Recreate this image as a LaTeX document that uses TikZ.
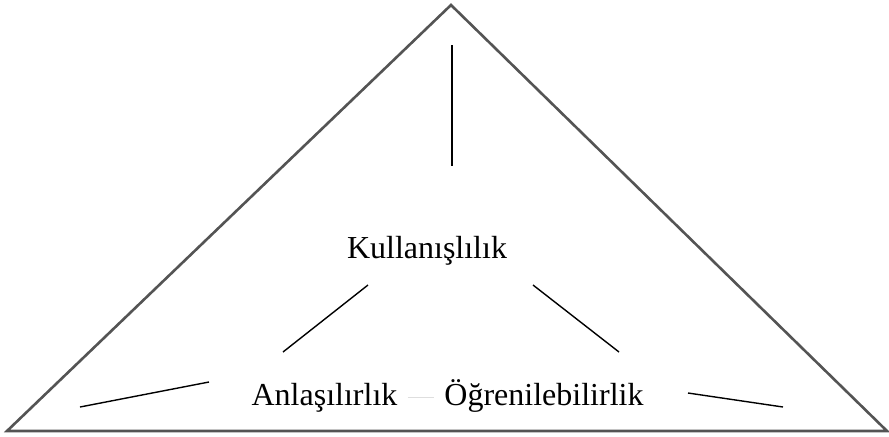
\documentclass[tikz,border=0pt]{standalone}
\usepackage{fontspec}
\setmainfont{Liberation Serif}

\tikzstyle{kavram}=[inner xsep=5pt,
                    inner ysep=0pt,
                    text height=0.9em,
                    text depth=0.15em,
                    anchor=base,
                    font=\fontsize{16}{19}\selectfont]
\tikzstyle{kenar}=[draw=black!67, line width=1.3pt, line join=miter]
\tikzstyle{cizgi}=[draw=black, line width=0.7pt]
\tikzstyle{acikcizgi}=[draw=black!13, line width=0.8pt]

\begin{document}
\begin{tikzpicture}[x=0.5pt,y=-0.5pt]
    \useasboundingbox (0,0) rectangle (889,436);
    \coordinate (tepe) at (451,5);
    \coordinate (solalt) at (7,431);
    \coordinate (sagalt) at (887,431);
    \draw [kenar] (solalt) -- (tepe) -- (sagalt) -- cycle;

    \node [kavram] (kul) at (427,258) {Kullanışlılık};
    \node [kavram] (anl) at (324.5,405) {Anlaşılırlık};
    \node [kavram] (ogr) at (544,405) {Öğrenilebilirlik};
    \draw [acikcizgi] (anl.east) -- (anl.east -| ogr.west);

    \coordinate (u1) at (452,45);
    \coordinate (u2) at (452,166);
    \coordinate (s1) at (283,352);
    \coordinate (s2) at (368,285);
    \coordinate (r1) at (533,285);
    \coordinate (r2) at (619,352);
    \coordinate (a1) at (80,407);
    \coordinate (a2) at (209,382);
    \coordinate (b1) at (688,393);
    \coordinate (b2) at (783,407);
    \draw [cizgi] (u1) -- (u2);
    \draw [cizgi] (s1) -- (s2);
    \draw [cizgi] (r1) -- (r2);
    \draw [cizgi] (a1) -- (a2);
    \draw [cizgi] (b1) -- (b2);
\end{tikzpicture}
\end{document}
